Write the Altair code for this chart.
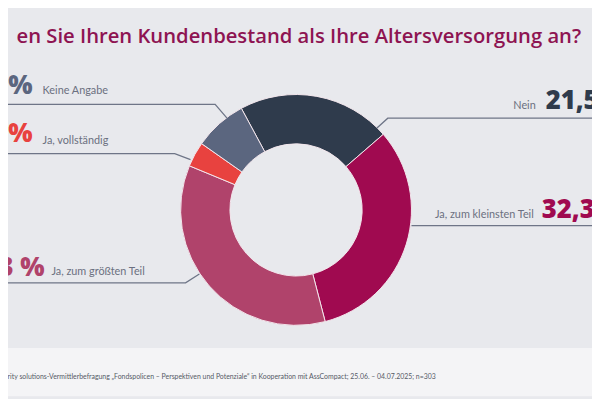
import math
import altair as alt
import pandas as pd

# ---------------- data ----------------
categories = ["Nein", "Ja, zum kleinsten Teil", "Ja, zum größten Teil", "Ja, vollständig", "Keine Angabe"]
values = [21.5, 32.3, 35.3, 3.5, 7.4]
colors = ["#2f3b4c", "#a00a50", "#b0436b", "#e8423f", "#5b667f"]
title_text = "en Sie Ihren Kundenbestand als Ihre Altersversorgung an?"
footer_text = ("perity solutions-Vermittlerbefragung \u201eFondspolicen \u2013 Perspektiven und Potenziale\u201c "
               "in Kooperation mit AssCompact; 25.06. \u2013 04.07.2025; n=303")

# ---------------- layout (reference pixel coordinates) ----------------
OFF = 8  # page margin
W, H = 600 - OFF, 399 - OFF
CX, CY = 300, 210
R_OUT, R_IN = 117, 67
START_DEG = -28.3

num_pos = {
    "Nein": (553, 108, "left"),
    "Ja, zum kleinsten Teil": (549, 218, "left"),
    "Ja, zum größten Teil": (45, 277, "right"),
    "Ja, vollständig": (33, 141, "right"),
    "Keine Angabe": (33, 92, "right"),
}
lab_pos = {
    "Nein": (543, 108, "right"),
    "Ja, zum kleinsten Teil": (541, 218, "right"),
    "Ja, zum größten Teil": (52, 276, "left"),
    "Ja, vollständig": (43, 143, "left"),
    "Keine Angabe": (43, 92, "left"),
}
leaders = {
    "Nein": [(382, 127), (393, 117), (610, 117)],
    "Ja, zum kleinsten Teil": [(417, 226), (610, 226)],
    "Ja, zum größten Teil": [(202, 275), (188, 284), (-10, 284)],
    "Ja, vollständig": [(193, 159), (177, 153), (-10, 153)],
    "Keine Angabe": [(230, 117), (218, 103), (-10, 103)],
}

color_scale = alt.Scale(domain=categories, range=colors)

def fmt(v):
    return f"{v:.1f}".replace(".", ",") + " %"

pie_df = pd.DataFrame({"cat": categories, "value": values, "ord": list(range(len(categories)))})

start = math.radians(START_DEG)
arcs = alt.Chart(pie_df).mark_arc(radius=R_OUT, radius2=R_IN, stroke="#f3e6ec", strokeWidth=1).encode(
    theta=alt.Theta("value:Q", stack=True, scale=alt.Scale(range=[start, start + 2 * math.pi])),
    color=alt.Color("cat:N", scale=color_scale, legend=None),
    order=alt.Order("ord:Q"),
    x=alt.value(CX - OFF),
    y=alt.value(CY - OFF),
)

band = alt.Chart(pd.DataFrame({"a": [0]})).mark_rect(color="#f4f4f6").encode(
    x=alt.value(0), x2=alt.value(W), y=alt.value(350 - OFF), y2=alt.value(H)
)

rows = []
for c in categories:
    for i, (px, py) in enumerate(leaders[c]):
        rows.append({"cat": c, "i": i, "px": px - OFF, "py": py - OFF})
line_df = pd.DataFrame(rows)
lines = alt.Chart(line_df).mark_line(color="#6e7587", strokeWidth=1.3).encode(
    x=alt.X("px:Q", scale=None, axis=None),
    y=alt.Y("py:Q", scale=None, axis=None),
    detail="cat:N",
    order="i:Q",
)

def text_layer(pos, align, num, **mk):
    rows = []
    for c, v in zip(categories, values):
        px, py, al = pos[c]
        if al == align:
            rows.append({"cat": c, "px": px - OFF, "py": py - OFF, "txt": fmt(v) if num else c})
    df = pd.DataFrame(rows)
    m = alt.Chart(df).mark_text(align=align, baseline="alphabetic", **mk)
    enc = dict(x=alt.X("px:Q", scale=None, axis=None), y=alt.Y("py:Q", scale=None, axis=None), text="txt:N")
    if num:
        enc["color"] = alt.Color("cat:N", scale=color_scale, legend=None)
    return m.encode(**enc)

nums_l = text_layer(num_pos, "left", True, font="Open Sans", fontSize=26, fontWeight=800)
nums_r = text_layer(num_pos, "right", True, font="Open Sans", fontSize=26, fontWeight=800)
labs_l = text_layer(lab_pos, "left", False, font="Lato", fontSize=11, color="#6b7080")
labs_r = text_layer(lab_pos, "right", False, font="Lato", fontSize=11, color="#6b7080")

title = alt.Chart(pd.DataFrame({"t": [title_text]})).mark_text(
    align="right", baseline="alphabetic", font="Open Sans", fontSize=20.5, fontWeight=600, color="#8e1452"
).encode(text="t:N", x=alt.value(589 - OFF), y=alt.value(41 - OFF))

footer = alt.Chart(pd.DataFrame({"t": [footer_text]})).mark_text(
    align="left", baseline="middle", font="Lato", fontSize=7, color="#555a66"
).encode(text="t:N", x=alt.value(0 - OFF), y=alt.value(379 - OFF))

chart = alt.layer(band, arcs, lines, nums_l, nums_r, labs_l, labs_r, title, footer).properties(
    width=W, height=H, background="#e8e9ed", padding=0, autosize="none"
).configure_view(stroke=None)

chart.save("out.html", embed_options={"renderer": "svg", "actions": False})
